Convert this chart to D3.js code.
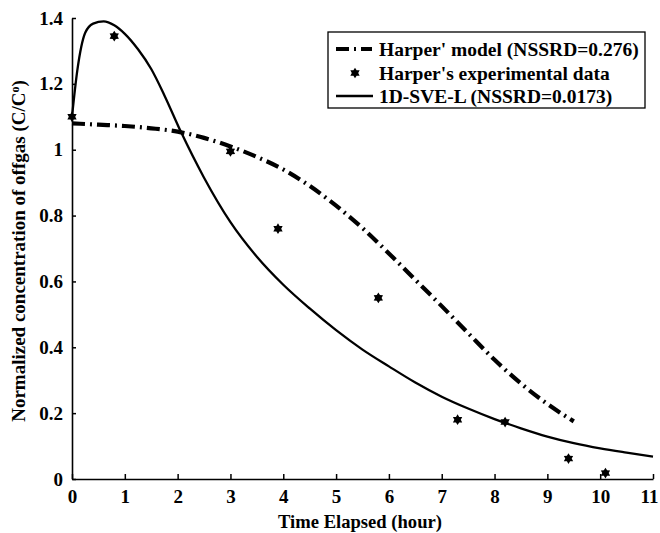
<!DOCTYPE html>
<html>
<head>
<meta charset="utf-8">
<script src="https://cdn.jsdelivr.net/npm/d3@7"></script>
<style>
  body { margin: 0; background: #fff; }
  text { font-family: "Liberation Serif", "Times New Roman", serif; font-weight: bold; fill: #000; }
</style>
</head>
<body>
<div id="wrapper"></div>
<script>
// Harper's experimental data (hours, C/C0)
const expTime = [0, 0.8, 3.0, 3.9, 5.8, 7.3, 8.2, 9.4, 10.1];
const expConc = [1.10, 1.345, 0.995, 0.76, 0.55, 0.18, 0.173, 0.062, 0.018];

// Harper' model curve
const harperTime = [0, 0.5, 1, 1.5, 2, 2.5, 3, 3.5, 4, 4.5, 5, 5.5, 6, 6.5, 7, 7.5, 8, 8.5, 9, 9.5];
const harperConc = [1.08, 1.076, 1.072, 1.065, 1.055, 1.036, 1.01, 0.978, 0.94, 0.89, 0.83, 0.762, 0.685, 0.605, 0.525, 0.443, 0.362, 0.29, 0.228, 0.175];

// 1D-SVE-L curve
const sveTime = [0, 0.1, 0.25, 0.4, 0.6, 0.8, 1.0, 1.25, 1.5, 1.75, 2.06, 2.5, 3, 3.5, 4, 4.5, 5, 5.5, 6, 6.5, 7, 7.5, 8, 8.5, 9, 9.5, 10, 10.5, 11];
const sveConc = [1.10, 1.24, 1.355, 1.383, 1.39, 1.378, 1.352, 1.305, 1.245, 1.165, 1.055, 0.915, 0.78, 0.675, 0.59, 0.518, 0.452, 0.393, 0.342, 0.293, 0.25, 0.214, 0.182, 0.154, 0.129, 0.109, 0.093, 0.08, 0.068];

const xTicks = d3.range(0, 12);
const yTicks = [0, 0.2, 0.4, 0.6, 0.8, 1, 1.2, 1.4];

const legendLabels = ["Harper' model (NSSRD=0.276)", "Harper's experimental data", "1D-SVE-L (NSSRD=0.0173)"];

const width = 660, height = 533;
const margin = {top: 18, right: 7, bottom: 54, left: 72};

const svg = d3.select("#wrapper").append("svg")
  .attr("width", width)
  .attr("height", height);

const x = d3.scaleLinear().domain([0, 11]).range([margin.left, width - margin.right]);
const y = d3.scaleLinear().domain([0, 1.4]).range([height - margin.bottom, margin.top]);

// axes
const xAxis = svg.append("g")
  .attr("transform", `translate(0,${y(0)})`)
  .call(d3.axisBottom(x).tickValues(xTicks).tickSizeInner(-5).tickSizeOuter(0).tickPadding(11));
const yAxis = svg.append("g")
  .attr("transform", `translate(${x(0)},0)`)
  .call(d3.axisLeft(y).tickValues(yTicks).tickFormat(d => String(d)).tickSizeInner(-4).tickSizeOuter(0).tickPadding(9));

[xAxis, yAxis].forEach(g => {
  g.select(".domain").attr("stroke", "#000").attr("stroke-width", 1.6);
  g.selectAll(".tick line").attr("stroke", "#000").attr("stroke-width", 1.5);
  g.selectAll(".tick text").style("font-size", "19px").style("font-family", "Liberation Serif, serif").style("font-weight", "bold");
});
xAxis.selectAll(".tick text").filter(d => d === 11).attr("dx", -4);

// axis titles
svg.append("text")
  .attr("x", 360).attr("y", 528)
  .attr("text-anchor", "middle")
  .style("font-size", "18.6px")
  .text("Time Elapsed (hour)");

const yLab = svg.append("text")
  .attr("transform", `translate(25,${251}) rotate(-90)`)
  .attr("text-anchor", "middle")
  .style("font-size", "19px");
yLab.append("tspan").text("Normalized concentration of offgas (C/C");
yLab.append("tspan").attr("dy", -6).style("font-size", "12px").text("o");
yLab.append("tspan").attr("dy", 6).text(")");

const line = d3.line().curve(d3.curveMonotoneX);

// model curves
svg.append("path")
  .datum(harperTime.map((t, i) => [x(t), y(harperConc[i])]))
  .attr("d", line)
  .attr("fill", "none")
  .attr("stroke", "#000")
  .attr("stroke-width", 4.2)
  .attr("stroke-dasharray", "13,5,2,5");

svg.append("path")
  .datum(sveTime.map((t, i) => [x(t), y(sveConc[i])]))
  .attr("d", line)
  .attr("fill", "none")
  .attr("stroke", "#000")
  .attr("stroke-width", 2.3);

// six-pointed star symbol
const star6 = {
  draw(context, size) {
    const r = Math.sqrt(size) * 0.62;
    for (let i = 0; i < 12; i++) {
      const a = i * Math.PI / 6 - Math.PI / 2;
      const rr = i % 2 ? r * 0.6 : r;
      if (i === 0) context.moveTo(rr * Math.cos(a), rr * Math.sin(a));
      else context.lineTo(rr * Math.cos(a), rr * Math.sin(a));
    }
    context.closePath();
  }
};
const sym = d3.symbol().type(star6).size(75);

svg.selectAll("path.exp")
  .data(expTime.map((t, i) => ({t: t, c: expConc[i]})))
  .join("path")
  .attr("class", "exp")
  .attr("transform", d => `translate(${x(d.t)},${y(d.c)})`)
  .attr("d", sym)
  .attr("fill", "#000");

// legend
const legend = svg.append("g");
legend.append("rect")
  .attr("x", 328).attr("y", 32)
  .attr("width", 317).attr("height", 76)
  .attr("fill", "#fff")
  .attr("stroke", "#000")
  .attr("stroke-width", 1.3);

const rowY = [49, 73, 96];
legend.append("line")
  .attr("x1", 336).attr("x2", 372).attr("y1", rowY[0]).attr("y2", rowY[0])
  .attr("stroke", "#000").attr("stroke-width", 4.2).attr("stroke-dasharray", "13,5,2,5");
legend.append("path")
  .attr("transform", `translate(355,${rowY[1]})`)
  .attr("d", sym)
  .attr("fill", "#000");
legend.append("line")
  .attr("x1", 336).attr("x2", 373).attr("y1", rowY[2]).attr("y2", rowY[2])
  .attr("stroke", "#000").attr("stroke-width", 2.3);

legend.selectAll("text.lab")
  .data(legendLabels)
  .join("text")
  .attr("class", "lab")
  .attr("x", 379)
  .attr("y", (d, i) => rowY[i])
  .attr("dy", "0.35em")
  .style("font-size", "19.5px")
  .text(d => d);
</script>
</body>
</html>
